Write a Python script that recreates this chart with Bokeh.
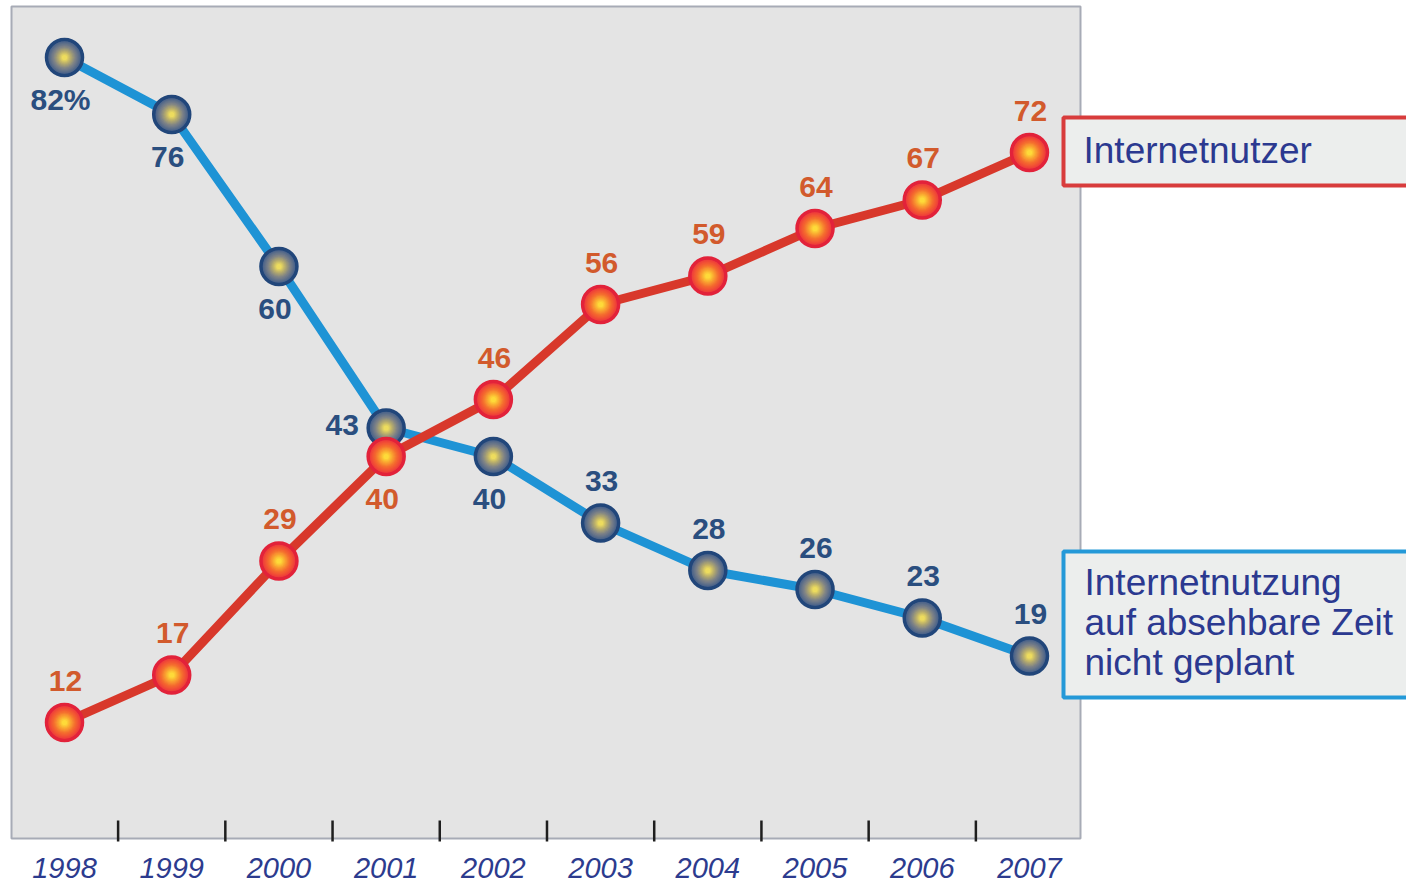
from bokeh.plotting import figure
from bokeh.models import Range1d, ColumnDataSource
from bokeh.core.properties import value
from bokeh.embed import file_html
from bokeh.resources import INLINE

# ---------------- data ----------------
years = [1998, 1999, 2000, 2001, 2002, 2003, 2004, 2005, 2006, 2007]
nutzer = [12, 17, 29, 40, 46, 56, 59, 64, 67, 72]          # Internetnutzer
nicht_geplant = [82, 76, 60, 43, 40, 33, 28, 26, 23, 19]   # Nutzung nicht geplant
year_labels = [str(y) for y in years]
legend_nutzer = ["Internetnutzer"]
legend_nicht = ["Internetnutzung", "auf absehbare Zeit", "nicht geplant"]

# label placement (style)
nicht_place = ["below", "below", "below", "left", "below",
               "above", "above", "above", "above", "above"]
nutzer_place = ["above", "above", "above", "below", "above",
                "above", "above", "above", "above", "above"]

# ---------------- layout helpers ----------------
W, H = 1406, 884
PPX = 107.22      # pixels per year
PPY = 9.5         # pixels per percent


def X(px):
    return 1998 + (px - 64) / PPX


def Y(py):
    return 82 - (py - 57) / PPY


p = figure(width=W, height=H, output_backend="svg", toolbar_location=None,
           x_range=Range1d(X(0), X(W)), y_range=Range1d(Y(H), Y(0)),
           min_border=0, min_border_left=0, min_border_right=0,
           min_border_top=0, min_border_bottom=0)
p.xaxis.visible = False
p.yaxis.visible = False
p.grid.visible = False
p.outline_line_color = None
p.background_fill_color = "white"
p.border_fill_color = "white"

# gray plot box
p.quad(left=[X(11)], right=[X(1080)], bottom=[Y(838)], top=[Y(6)],
       fill_color="#e4e4e4", line_color="#a7abb6", line_width=2)

# tick marks between years
half = [y + 0.5 for y in years[:-1]]
p.segment(x0=half, x1=half, y0=[Y(820)] * len(half), y1=[Y(841)] * len(half),
          line_color="#1e1e1e", line_width=2.5)

# year labels
p.text(x=years, y=[Y(867)] * len(years), text=year_labels,
       text_font=value("Liberation Sans"), text_font_style="italic",
       text_font_size="29px", text_color="#2c3b8e",
       text_align="center", text_baseline="middle")


def hexmix(c1, c2, t):
    a = [int(c1[i:i + 2], 16) for i in (1, 3, 5)]
    b = [int(c2[i:i + 2], 16) for i in (1, 3, 5)]
    return "#%02x%02x%02x" % tuple(round(a[k] + (b[k] - a[k]) * t) for k in range(3))


def grad(stops, t):
    n = len(stops) - 1
    i = min(int(t * n), n - 1)
    return hexmix(stops[i], stops[i + 1], t * n - i)


def markers(xs, ys, ring, stops, D=36, N=14):
    p.scatter(xs, ys, size=D, fill_color=stops[0], line_color=ring, line_width=3.5)
    for i in range(1, N):
        t = i / N
        p.scatter(xs, ys, size=(D - 5) * (1 - t) + 3, fill_color=grad(stops, t),
                  line_color=None)


OFFS = {"above": (1, -42), "below": (-4, 42), "left": (-44, -3)}


def labels(xs, ys, texts, places, color):
    src = ColumnDataSource(dict(x=xs, y=ys, t=texts,
                                dx=[OFFS[k][0] for k in places],
                                dy=[OFFS[k][1] for k in places]))
    p.text(x="x", y="y", text="t", x_offset="dx", y_offset="dy", source=src,
           text_font=value("Liberation Sans"), text_font_style="bold",
           text_font_size="30px", text_color=color,
           text_align="center", text_baseline="middle")


# blue series: Internetnutzung nicht geplant
p.line(years, nicht_geplant, line_color="#1e93d5", line_width=9)
markers(years, nicht_geplant, "#21467a",
        ["#46608a", "#7a8088", "#b8ad6c", "#fbe95a"])

# red series: Internetnutzer
p.line(years, nutzer, line_color="#d8382b", line_width=9)
markers(years, nutzer, "#e2223a",
        ["#ee3a3c", "#f4652f", "#f9a530", "#ffe83c"])

nicht_txt = [str(v) for v in nicht_geplant]
nicht_txt[0] = nicht_txt[0] + "%"
labels(years, nicht_geplant, nicht_txt, nicht_place, "#2a4e7f")
labels(years, nutzer, [str(v) for v in nutzer], nutzer_place, "#d25a2c")

# legend boxes
p.quad(left=[X(1063)], right=[X(1440)], bottom=[Y(185)], top=[Y(117)],
       fill_color="#eceeed", line_color="#d83c3c", line_width=4)
p.quad(left=[X(1063)], right=[X(1440)], bottom=[Y(697)], top=[Y(551)],
       fill_color="#eceeed", line_color="#2499d8", line_width=4)

p.text(x=[X(1083)], y=[Y(150)], text=legend_nutzer,
       text_font=value("Liberation Sans"), text_font_size="37px",
       text_color="#2b3990", text_align="left", text_baseline="middle")
p.text(x=[X(1084)] * 3, y=[Y(582), Y(622), Y(662)], text=legend_nicht,
       text_font=value("Liberation Sans"), text_font_size="37px",
       text_color="#2b3990", text_align="left", text_baseline="middle")

open("out.html", "w").write(file_html(p, INLINE))
